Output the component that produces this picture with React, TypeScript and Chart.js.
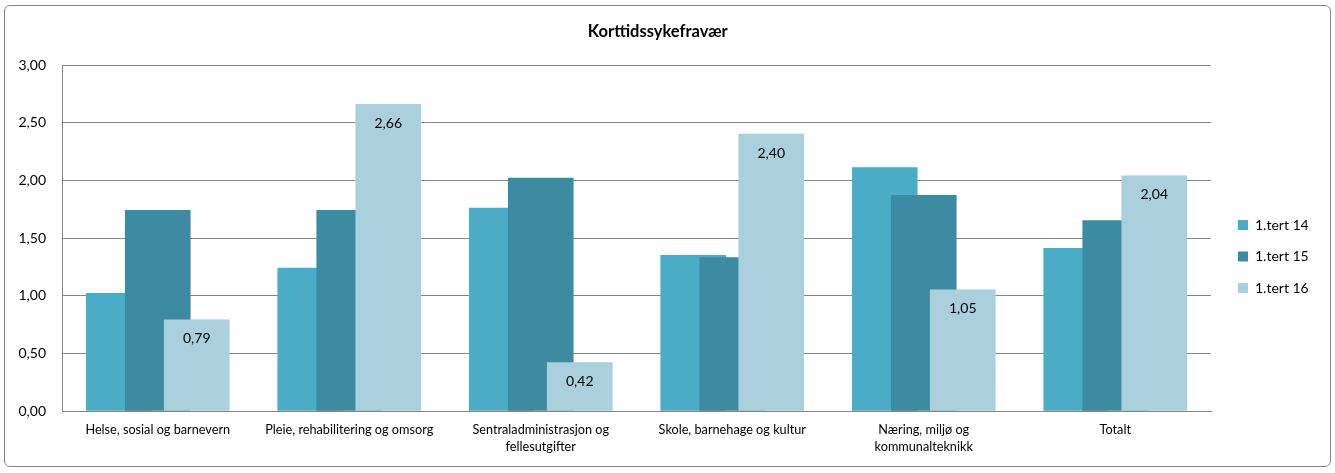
import React, { useEffect, useRef } from 'react';
import { Chart, registerables } from 'chart.js';

Chart.register(...registerables);

const categories: (string | string[])[] = [
  'Helse, sosial og barnevern',
  'Pleie, rehabilitering og omsorg',
  ['Sentraladministrasjon og', 'fellesutgifter'],
  'Skole, barnehage og kultur',
  ['Næring, miljø og', 'kommunalteknikk'],
  'Totalt',
];
const seriesNames = ['1.tert 14', '1.tert 15', '1.tert 16'];
const tert14 = [1.02, 1.24, 1.76, 1.35, 2.11, 1.41];
const tert15 = [1.74, 1.74, 2.02, 1.33, 1.87, 1.65];
const tert16 = [0.79, 2.66, 0.42, 2.4, 1.05, 2.04];
const yMin = 0;
const yMax = 3;
const yStep = 0.5;
const chartTitle = 'Korttidssykefravær';

const series = [tert14, tert15, tert16];
const colors = ['#4BACC6', '#3C8BA2', '#AACFDD'];
const groupOffsets = [-0.2037, 0, 0.2037];
const GRID = '#868686';
const FONT = 'Lato';

const fmt = (v: number) => v.toFixed(2).replace('.', ',');

const valueLabels = {
  id: 'valueLabels',
  afterDatasetsDraw(chart: any) {
    const meta = chart.getDatasetMeta(2);
    const ctx = chart.ctx;
    ctx.save();
    ctx.font = `14px ${FONT}`;
    ctx.fillStyle = '#000';
    ctx.textAlign = 'center';
    ctx.textBaseline = 'middle';
    meta.data.forEach((el: any, j: number) => {
      ctx.fillText(fmt(tert16[j]), el.x, el.y + 19);
    });
    ctx.restore();
  },
};

export default function App() {
  const ref = useRef<HTMLCanvasElement | null>(null);

  useEffect(() => {
    if (!ref.current) return;
    Chart.defaults.font.family = FONT;
    const chart = new Chart(ref.current, {
      type: 'bar',
      data: {
        labels: categories as any,
        datasets: series.map((vals, i) => ({
          label: seriesNames[i],
          data: vals.map((v, j) => ({ x: j + groupOffsets[i], y: v })),
          backgroundColor: colors[i],
          borderWidth: 0,
          xAxisID: 'xl',
          yAxisID: 'y',
          grouped: false,
          barThickness: 65,
          order: 2 - i,
        })) as any,
      },
      options: {
        responsive: false,
        animation: false,
        devicePixelRatio: 1,
        layout: { padding: { left: 0, right: 19.5, top: 0, bottom: 0 } },
        plugins: {
          tooltip: { enabled: false },
          title: {
            display: true,
            text: chartTitle,
            color: '#000',
            font: { family: FONT, size: 16.5, weight: 'bold', lineHeight: 1.2 },
            padding: { top: 22, bottom: 23.2 },
          },
          legend: {
            display: true,
            position: 'right',
            fullSize: false,
            maxWidth: 95,
            title: { display: true, text: '', padding: { top: 0, bottom: 27 }, font: { size: 10, lineHeight: 1 } },
            labels: {
              boxWidth: 10,
              boxHeight: 10,
              padding: 17.5,
              color: '#000',
              font: { family: FONT, size: 14 },
              sort: (a: any, b: any) => a.datasetIndex - b.datasetIndex,
            },
          },
        },
        scales: {
          x: {
            type: 'category',
            position: 'bottom',
            offset: true,
            grid: { display: false, drawTicks: false, offset: true },
            border: { display: true, color: GRID, width: 1 },
            ticks: { color: '#000', font: { family: FONT, size: 12.7, lineHeight: 1.35 }, padding: 10.4, maxRotation: 0, autoSkip: false },
            afterFit: (s: any) => { s.height = 62; },
          },
          xl: {
            type: 'linear',
            position: 'bottom',
            display: false,
            offset: false,
            min: -0.5,
            max: 5.5,
          },
          y: {
            type: 'linear',
            position: 'left',
            min: yMin,
            max: yMax,
            ticks: { stepSize: yStep, color: '#000', font: { family: FONT, size: 14 }, padding: 16, callback: (v: any) => fmt(Number(v)) },
            grid: { color: GRID, lineWidth: 1, drawTicks: false },
            border: { display: true, color: GRID, width: 1 },
            afterFit: (s: any) => { s.width = 62; },
          },
          yr: {
            type: 'linear',
            position: 'right',
            display: true,
            ticks: { display: false },
            grid: { display: false, drawTicks: false },
            border: { display: false },
            afterFit: (s: any) => { s.width = 9.5; },
          },
        } as any,
      },
      plugins: [valueLabels],
    });
    return () => chart.destroy();
  }, []);

  return (
    <div style={{ position: 'absolute', left: 0, top: 0, width: 1335, height: 473, background: '#fff' }}>
      <div
        style={{
          position: 'absolute',
          left: 4,
          top: 5,
          width: 1327,
          height: 462,
          boxSizing: 'border-box',
          border: '1px solid #868686',
          borderRadius: 6,
        }}
      />
      <canvas
        ref={ref}
        width={1335}
        height={473}
        style={{ position: 'absolute', left: 0, top: 0, width: 1335, height: 473 }}
      />
    </div>
  );
}
